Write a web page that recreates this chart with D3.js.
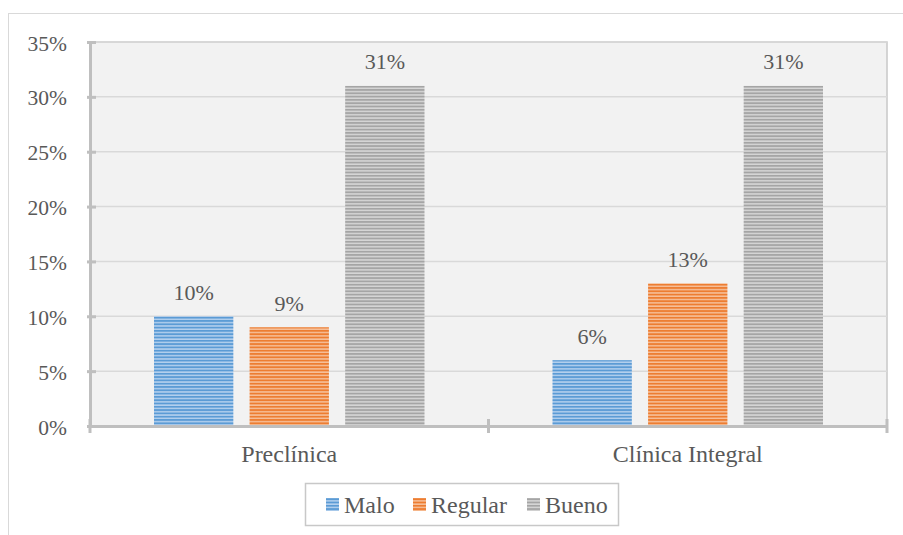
<!DOCTYPE html>
<html><head><meta charset="utf-8">
<script src="https://cdn.jsdelivr.net/npm/d3@7"></script>
<style>html,body{margin:0;padding:0;background:#fff;}svg{display:block;}</style>
</head><body>
<svg id="c" width="903" height="535"></svg>
<script>
const categories = ["Preclínica", "Clínica Integral"];
const seriesNames = ["Malo", "Regular", "Bueno"];
const malo = [0.10, 0.06];
const regular = [0.09, 0.13];
const bueno = [0.31, 0.31];
const yTicks = [0, 0.05, 0.10, 0.15, 0.20, 0.25, 0.30, 0.35];
const seriesValues = [malo, regular, bueno];
const colors = {Malo: ["#5b9bd5", "#b4d0ee"], Regular: ["#ed7d31", "#f6c09a"], Bueno: ["#a5a5a5", "#d6d6d6"]};

const svg = d3.select("#c");
const pLeft = 90, pRight = 887, pTop = 42, pBottom = 426;
const font = "'Liberation Serif','Times New Roman',serif";
const textCol = "#595959";

// outer border
svg.append("rect").attr("x", 8.5).attr("y", 13.5).attr("width", 900).attr("height", 530)
  .attr("fill", "#fff").attr("stroke", "#d9d9d9").attr("stroke-width", 1);

// patterns
const defs = svg.append("defs");
seriesNames.forEach((s, i) => {
  const p = defs.append("pattern").attr("id", "pat" + i).attr("patternUnits", "userSpaceOnUse")
    .attr("width", 8).attr("height", 3.3);
  p.append("rect").attr("width", 8).attr("height", 3.3).attr("fill", colors[s][1]);
  p.append("rect").attr("width", 8).attr("height", 1.8).attr("fill", colors[s][0]);
});

const y = d3.scaleLinear().domain([0, 0.35]).range([pBottom, pTop]);
const x0 = d3.scaleBand().domain(categories).range([pLeft, pRight]).padding(0);
const x1 = d3.scaleBand().domain(seriesNames).range([64, x0.bandwidth() - 64]).paddingInner(0.17).paddingOuter(0);

// plot background
svg.append("rect").attr("x", pLeft).attr("y", pTop).attr("width", pRight - pLeft).attr("height", pBottom - pTop)
  .attr("fill", "#f2f2f2").attr("stroke", "#c8c8c8").attr("stroke-width", 1.5);

// gridlines
svg.append("g").selectAll("line").data(yTicks.filter(d => d > 0)).join("line")
  .attr("x1", pLeft).attr("x2", pRight).attr("y1", d => y(d)).attr("y2", d => y(d))
  .attr("stroke", "#d9d9d9").attr("stroke-width", 1.5);

// y axis
const yAxis = d3.axisLeft(y).tickValues(yTicks).tickFormat(d => Math.round(d * 100) + "%").tickSize(0).tickPadding(23);
const gy = svg.append("g").attr("transform", `translate(${pLeft},0)`).call(yAxis);
gy.select(".domain").attr("stroke", "#bfbfbf").attr("stroke-width", 3);
gy.selectAll("text").attr("font-family", font).attr("font-size", 21.5).attr("fill", textCol).attr("dy", 8);
gy.selectAll(".tick").append("line").attr("x1", -3).attr("x2", 6).attr("stroke", "#bfbfbf").attr("stroke-width", 3);

// bars
const groups = svg.append("g").selectAll("g").data(categories).join("g")
  .attr("transform", d => `translate(${x0(d)},0)`);
groups.each(function(c, ci) {
  const g = d3.select(this);
  seriesNames.forEach((s, si) => {
    const v = seriesValues[si][ci];
    g.append("rect").attr("x", x1(s)).attr("width", x1.bandwidth())
      .attr("y", y(v)).attr("height", y(0) - y(v)).attr("fill", `url(#pat${si})`);
    g.append("text").attr("x", x1(s) + x1.bandwidth() / 2).attr("y", y(v) - 16.5)
      .attr("text-anchor", "middle").attr("font-family", font).attr("font-size", 22).attr("fill", textCol)
      .text(Math.round(v * 100) + "%");
  });
});

// x axis
const xAxis = d3.axisBottom(x0).tickSize(0).tickPadding(19);
const gx = svg.append("g").attr("transform", `translate(0,${pBottom})`).call(xAxis);
gx.select(".domain").attr("stroke", "#bfbfbf").attr("stroke-width", 3);
gx.selectAll("text").attr("font-family", font).attr("font-size", 24).attr("fill", textCol);
const bounds = [pLeft, x0(categories[1]), pRight];
gx.append("g").selectAll("line").data(bounds).join("line")
  .attr("x1", d => d).attr("x2", d => d).attr("y1", -7).attr("y2", 7)
  .attr("stroke", "#bfbfbf").attr("stroke-width", 3);

// legend
const lg = svg.append("g");
lg.append("rect").attr("x", 305.5).attr("y", 483.5).attr("width", 313).attr("height", 42)
  .attr("fill", "#fff").attr("stroke", "#c8c8c8").attr("stroke-width", 1.5);
const legX = [326, 413, 527];
seriesNames.forEach((s, i) => {
  lg.append("rect").attr("x", legX[i]).attr("y", 498).attr("width", 13).attr("height", 13).attr("fill", `url(#pat${i})`);
  lg.append("text").attr("x", legX[i] + 18).attr("y", 513).attr("font-family", font).attr("font-size", 24)
    .attr("fill", textCol).text(s);
});
</script>
</body></html>
